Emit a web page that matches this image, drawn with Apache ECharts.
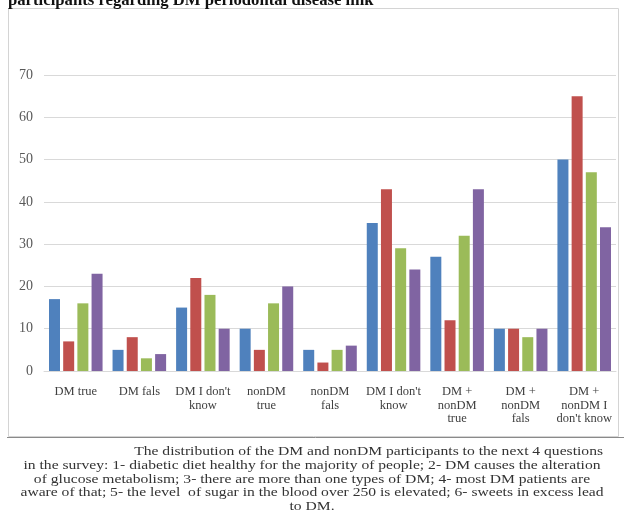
<!DOCTYPE html>
<html>
<head>
<meta charset="utf-8">
<script src="https://cdn.jsdelivr.net/npm/echarts@6/dist/echarts.min.js"></script>
<style>
  html, body { margin: 0; padding: 0; background: #fff; }
  #chart { width: 624px; height: 522px; }
</style>
</head>
<body>
<div id="chart"></div>
<script>
// Answer groups along the x axis
const categories = [
  "DM true", "DM fals", "DM I don't\nknow", "nonDM\ntrue", "nonDM\nfals",
  "DM I don't\nknow", "DM +\nnonDM\ntrue", "DM +\nnonDM\nfals", "DM +\nnonDM I\ndon't know"
];

// Number of participants per question, one array per question
const question1 = [17, 5, 15, 10, 5, 35, 27, 10, 50];
const question2 = [7, 8, 22, 5, 2, 43, 12, 10, 65];
const question3 = [16, 3, 18, 16, 5, 29, 32, 8, 47];
const question4 = [23, 4, 10, 20, 6, 24, 43, 10, 34];

const seriesNames = ["Question 1", "Question 2", "Question 3", "Question 4"];
const seriesColors = ["#4F81BD", "#C0504D", "#9BBB59", "#8064A2"];

const titleText = "participants regarding DM periodontal disease link";
const captionLines = [
  "The distribution of the DM and nonDM participants to the next 4 questions",
  "in the survey: 1- diabetic diet healthy for the majority of people; 2- DM causes the alteration",
  "of glucose metabolism; 3- there are more than one types of DM; 4- most DM patients are",
  "aware of that; 5- the level  of sugar in the blood over 250 is elevated; 6- sweets in excess lead",
  "to DM."
];

const serif = '"Liberation Serif", "Times New Roman", serif';
const chart = echarts.init(document.getElementById('chart'), null, { renderer: 'canvas' });

const dataSets = [question1, question2, question3, question4];
const series = dataSets.map((d, i) => ({
  name: seriesNames[i],
  type: 'bar',
  data: d,
  barWidth: 11,
  barGap: '29%',
  itemStyle: { color: seriesColors[i] },
  animation: false
}));

// Caption paragraph: first line indented, the rest centred; glyphs drawn slightly wide
const captionGraphics = captionLines.map((line, i) => {
  const first = i === 0;
  return {
    type: 'text',
    x: first ? 603 : 312,
    y: 452 + i * 13.6,
    scaleX: 1.2,
    style: {
      text: line,
      font: '13px ' + serif,
      fill: '#333',
      align: first ? 'right' : 'center',
      verticalAlign: 'middle'
    },
    silent: true
  };
});

chart.setOption({
  backgroundColor: '#fff',
  animation: false,
  grid: { left: 44, right: 8, top: 75, bottom: 151, containLabel: false },
  xAxis: {
    type: 'category',
    data: categories,
    axisLine: { show: true, lineStyle: { color: '#d9d9d9' } },
    axisTick: { show: false },
    axisLabel: {
      interval: 0,
      margin: 14,
      fontFamily: serif,
      fontSize: 12.5,
      lineHeight: 13.5,
      color: '#404040',
      verticalAlign: 'top'
    }
  },
  yAxis: {
    type: 'value',
    min: 0,
    max: 70,
    interval: 10,
    axisLine: { show: false },
    axisTick: { show: false },
    splitLine: { lineStyle: { color: '#d9d9d9', width: 1 } },
    axisLabel: { margin: 11, fontFamily: serif, fontSize: 14, color: '#595959' }
  },
  series: series,
  graphic: [
    {
      type: 'rect',
      shape: { x: 8.5, y: 8.5, width: 610, height: 428 },
      style: { fill: 'none', stroke: '#d4d4d4', lineWidth: 1 },
      silent: true, z: -1
    },
    {
      type: 'line',
      shape: { x1: 7, y1: 437.5, x2: 624, y2: 437.5 },
      style: { stroke: '#8a8a8a', lineWidth: 1 },
      silent: true
    },
    {
      type: 'text',
      x: 8,
      y: 9,
      style: {
        text: titleText,
        font: 'bold 16.7px ' + serif,
        fill: '#111',
        align: 'left',
        verticalAlign: 'bottom'
      },
      silent: true
    }
  ].concat(captionGraphics)
});
</script>
</body>
</html>
